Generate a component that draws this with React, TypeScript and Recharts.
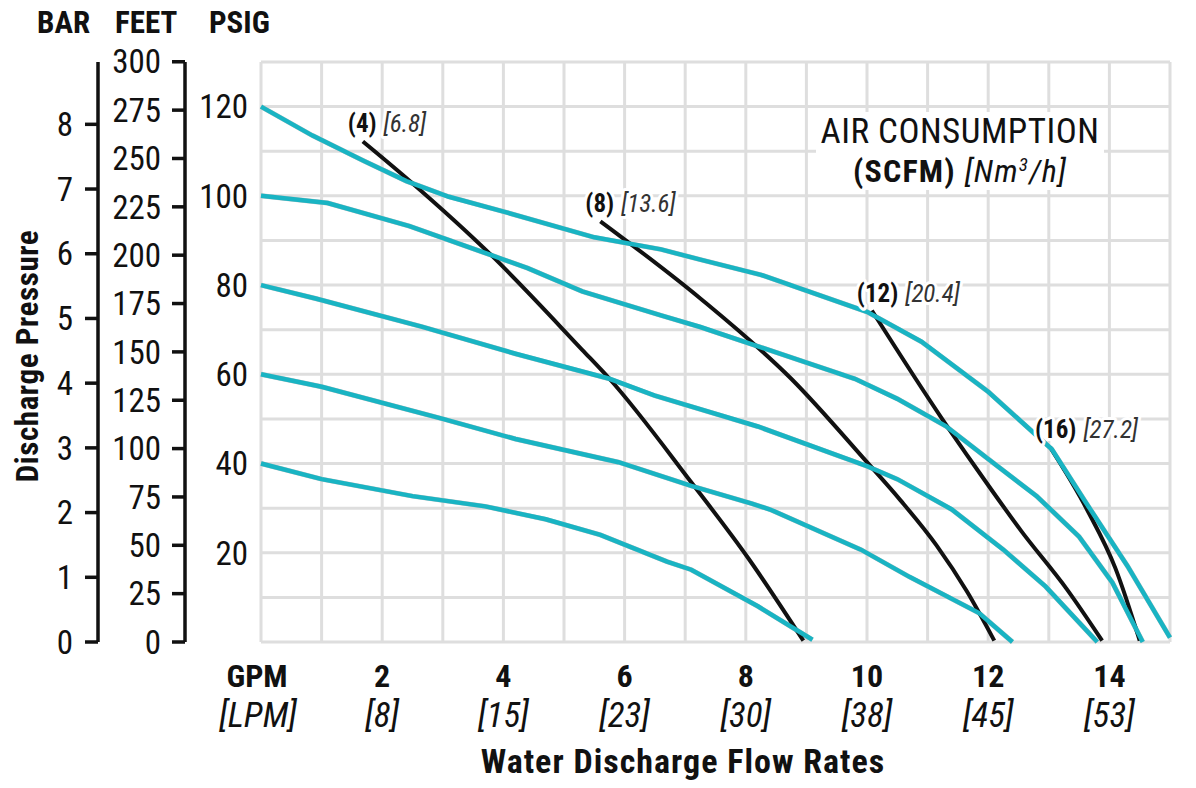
import React from 'react';
import { LineChart, Line, XAxis, YAxis, CartesianGrid, LabelList } from 'recharts';

const FONT = "'Liberation Sans Narrow', 'Arial Narrow', 'Roboto Condensed', 'DejaVu Sans Condensed', sans-serif";
const CYAN = '#19b4c3';
const INK = '#111111';

// Axis ticks
const gridGpm = [0, 1, 2, 3, 4, 5, 6, 7, 8, 9, 10, 11, 12, 13, 14, 15];
const gridPsig = [0, 10, 20, 30, 40, 50, 60, 70, 80, 90, 100, 110, 120, 130];
const gpmTickValues = [0, 2, 4, 6, 8, 10, 12, 14];
const gpmTickText = ['GPM', '2', '4', '6', '8', '10', '12', '14'];
const lpmTickText = ['[LPM]', '[8]', '[15]', '[23]', '[30]', '[38]', '[45]', '[53]'];
const psigLabelTicks = [20, 40, 60, 80, 100, 120];
const feetTicks = [0, 25, 50, 75, 100, 125, 150, 175, 200, 225, 250, 275, 300];
const barTicks = [0, 1, 2, 3, 4, 5, 6, 7, 8];

// Pump performance curves at constant inlet air pressure: [gpm, psig]
const curve120: number[][] = [[0, 120], [0.85, 113.5], [1.7, 107.8], [2.4, 103.3], [3.1, 99.8], [4.05, 96.3], [5.5, 90.7], [6.6, 88.0], [7.25, 85.7], [8.25, 82.3], [10.0, 74.0], [10.9, 67.3], [12.0, 56.1], [13.05, 43.2], [13.6, 31.5], [14.3, 17.0], [15.0, 1.0]];
const curve100: number[][] = [[0, 100], [1.1, 98.4], [2.45, 93.2], [3.8, 86.7], [4.4, 83.8], [5.3, 78.6], [6.6, 73.2], [7.25, 70.6], [8.5, 64.9], [9.8, 59.0], [10.5, 54.5], [11.3, 48.4], [12.0, 41.0], [12.8, 32.7], [13.5, 23.6], [14.05, 13.3], [14.55, 0]];
const curve80: number[][] = [[0, 80], [0.9, 77.0], [2.65, 70.7], [4.2, 64.6], [5.75, 59.0], [6.5, 55.2], [8.2, 48.3], [10.0, 39.4], [10.5, 36.5], [11.4, 29.7], [12.25, 20.7], [12.95, 12.4], [13.8, 0]];
const curve60: number[][] = [[0, 60], [1.0, 57.2], [3.0, 50.0], [4.2, 45.5], [5.9, 40.3], [7.1, 35.0], [8.1, 31.0], [8.4, 29.7], [9.9, 20.7], [10.7, 14.6], [11.85, 6.5], [12.4, 0]];
const curve40: number[][] = [[0, 40], [1.0, 36.5], [2.5, 32.7], [3.7, 30.4], [4.7, 27.5], [5.6, 24.0], [6.7, 18.0], [7.1, 16.2], [8.2, 8.0], [9.1, 0.5]];

// Air consumption lines: [gpm, psig]
const air4: number[][] = [[1.68, 112.2], [2.45, 103.4], [3.8, 86.7], [5.3, 65.5], [5.75, 59.0], [7.1, 35.8], [8.05, 18.6], [8.95, 0.3]];
const air8: number[][] = [[5.6, 94.3], [7.25, 77.0], [8.75, 59.0], [10.0, 40.3], [10.55, 31.8], [11.15, 21.6], [11.65, 11.3], [12.1, 0.3]];
const air12: number[][] = [[10.08, 74.3], [11.25, 49.8], [11.8, 39.0], [12.55, 24.8], [13.3, 11.8], [13.88, 0.3]];
const air16: number[][] = [[13.02, 43.7], [13.63, 29.7], [14.1, 16.5], [14.5, 0.3]];
const airScfm = ['(4)', '(8)', '(12)', '(16)'];
const airNm3 = ['[6.8]', '[13.6]', '[20.4]', '[27.2]'];

const pumpCurves = [curve120, curve100, curve80, curve60, curve40];
const airCurves = [air4, air8, air12, air16];

const toPts = (arr: number[][]) => arr.map(([gpm, psig]) => ({ gpm, psig }));

const PSI_PER_BAR = 14.5038;
const PSI_PER_FOOT = 0.4335;
const PSIG_MAX = 130;

const GpmTick = (props: any) => {
  const { x, y, payload } = props;
  const i = gpmTickValues.indexOf(payload.value);
  if (i < 0) return <g />;
  return (
    <g>
      <text x={x - (i === 0 ? 4 : 0)} y={y + 45} textAnchor="middle" fontFamily={FONT} fontWeight="bold" fontSize={32} fill={INK}>
        {gpmTickText[i]}
      </text>
      <text x={x - (i === 0 ? 3 : 0)} y={y + 85} textAnchor="middle" fontFamily={FONT} fontStyle="italic" fontSize={35} fill={INK}>
        {lpmTickText[i]}
      </text>
    </g>
  );
};

const PsigTick = (props: any) => {
  const { x, y, payload } = props;
  if (!psigLabelTicks.includes(payload.value)) return <g />;
  return (
    <text x={x} y={y} dy="0.36em" textAnchor="end" fontFamily={FONT} fontSize={33} fill={INK}>
      {payload.value}
    </text>
  );
};

const makeAirLabel = (idx: number) => (props: any) => {
  const { x, y, index } = props;
  if (index !== 0) return <g />;
  return (
    <text
      x={x - 15}
      y={y - 9}
      fontFamily={FONT}
      fontSize={25}
      fill={INK}
      stroke="#ffffff"
      strokeWidth={6}
      strokeLinejoin="round"
      paintOrder="stroke"
    >
      <tspan fontWeight="bold">{airScfm[idx]}</tspan>
      <tspan dx={7} fontStyle="italic" fill="#333">{airNm3[idx]}</tspan>
    </text>
  );
};

export default function App() {
  return (
    <div style={{ position: 'relative', width: 1180, height: 772 }}>
      <LineChart width={1180} height={772} margin={{ top: 54, right: 18, bottom: 38, left: 30 }}>
        <CartesianGrid
          xAxisId="gpm"
          yAxisId="a_psig"
          stroke="#dedede"
          strokeWidth={3}
        />
        <XAxis
          xAxisId="gpm"
          type="number"
          dataKey="gpm"
          domain={[0, 15]}
          ticks={gridGpm}
          interval={0}
          height={100}
          axisLine={false}
          tickLine={false}
          tickSize={0}
          tickMargin={0}
          tick={<GpmTick />}
        />
        <YAxis
          yAxisId="a_psig"
          type="number"
          domain={[0, PSIG_MAX]}
          ticks={gridPsig}
          interval={0}
          width={76}
          axisLine={false}
          tickLine={false}
          tickSize={0}
          tickMargin={13}
          tick={<PsigTick />}
        />
        <YAxis
          yAxisId="b_feet"
          type="number"
          domain={[0, PSIG_MAX / PSI_PER_FOOT]}
          allowDataOverflow
          ticks={feetTicks}
          interval={0}
          width={87}
          axisLine={{ stroke: INK, strokeWidth: 3.5 }}
          tickLine={{ stroke: INK, strokeWidth: 3.5 }}
          tickSize={13}
          tickMargin={11}
          tick={{ fill: INK, fontSize: 33, fontFamily: FONT }}
        />
        <YAxis
          yAxisId="c_bar"
          type="number"
          domain={[0, PSIG_MAX / PSI_PER_BAR]}
          allowDataOverflow
          ticks={barTicks}
          interval={0}
          width={60}
          axisLine={{ stroke: INK, strokeWidth: 3.5 }}
          tickLine={{ stroke: INK, strokeWidth: 3.5 }}
          tickSize={13}
          tickMargin={12}
          tick={{ fill: INK, fontSize: 33, fontFamily: FONT }}
        />
        {pumpCurves.map((c, i) => (
          <Line
            key={'sh' + i}
            xAxisId="gpm"
            yAxisId="a_psig"
            data={toPts(c)}
            dataKey="psig"
            type="linear"
            stroke="#c4c4c4"
            strokeWidth={5}
            dot={false}
            activeDot={false}
            isAnimationActive={false}
          />
        ))}
        {airCurves.map((c, i) => (
          <Line
            key={'air' + i}
            xAxisId="gpm"
            yAxisId="a_psig"
            data={toPts(c)}
            dataKey="psig"
            type="monotone"
            stroke={INK}
            strokeWidth={4}
            dot={false}
            activeDot={false}
            isAnimationActive={false}
          >
            <LabelList dataKey="psig" content={makeAirLabel(i)} />
          </Line>
        ))}
        {pumpCurves.map((c, i) => (
          <Line
            key={'pc' + i}
            xAxisId="gpm"
            yAxisId="a_psig"
            data={toPts(c)}
            dataKey="psig"
            type="linear"
            stroke={CYAN}
            strokeWidth={4.5}
            dot={false}
            activeDot={false}
            isAnimationActive={false}
          />
        ))}
      </LineChart>
      <svg
        width={1190}
        height={785}
        style={{ position: 'absolute', left: -8, top: -8, pointerEvents: 'none' }}
      >
        <g fontFamily={FONT} fill={INK}>
          <text x={37} y={33} fontSize={31} fontWeight="bold">BAR</text>
          <text x={115} y={33} fontSize={31} fontWeight="bold">FEET</text>
          <text x={209} y={33} fontSize={31} fontWeight="bold">PSIG</text>
          <text x={38} y={356} fontSize={31} fontWeight="bold" letterSpacing={0.6} textAnchor="middle" transform="rotate(-90 38 356)">
            Discharge Pressure
          </text>
          <text x={683} y={773} fontSize={34} fontWeight="bold" letterSpacing={1} textAnchor="middle">
            Water Discharge Flow Rates
          </text>
          <rect x={816} y={112} width={288} height={78} fill="#ffffff" />
          <text x={960} y={143} fontSize={35} letterSpacing={0.5} textAnchor="middle">AIR CONSUMPTION</text>
          <text x={960} y={182} fontSize={32} letterSpacing={1.2} textAnchor="middle">
            <tspan fontWeight="bold">(SCFM)</tspan>
            <tspan dx={9} fontStyle="italic">[Nm</tspan>
            <tspan fontStyle="italic" fontSize={19} dy={-11}>3</tspan>
            <tspan fontStyle="italic" dy={11}>/h]</tspan>
          </text>
        </g>
      </svg>
    </div>
  );
}
